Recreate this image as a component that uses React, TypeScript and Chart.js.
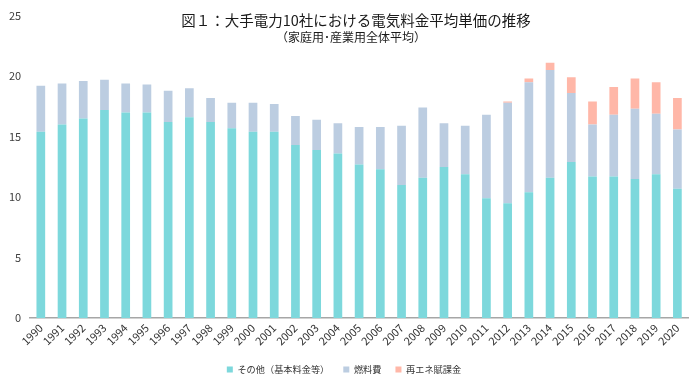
import React, { useEffect, useRef } from "react";
import { Chart, registerables } from "chart.js";

Chart.register(...registerables);

const TITLE = "図１：大手電力10社における電気料金平均単価の推移";
const SUBTITLE = "（家庭用･産業用全体平均）";

const years = [
  "1990", "1991", "1992", "1993", "1994", "1995", "1996", "1997", "1998", "1999",
  "2000", "2001", "2002", "2003", "2004", "2005", "2006", "2007", "2008", "2009",
  "2010", "2011", "2012", "2013", "2014", "2015", "2016", "2017", "2018", "2019", "2020",
];

const otherCost = [
  15.4, 16.0, 16.5, 17.2, 17.0, 17.0, 16.2, 16.6, 16.2, 15.7,
  15.4, 15.4, 14.3, 13.9, 13.6, 12.7, 12.3, 11.0, 11.6, 12.5,
  11.9, 9.9, 9.5, 10.4, 11.6, 12.9, 11.7, 11.7, 11.5, 11.9, 10.7,
];

const fuelCost = [
  3.8, 3.4, 3.1, 2.5, 2.4, 2.3, 2.6, 2.4, 2.0, 2.1,
  2.4, 2.3, 2.4, 2.5, 2.5, 3.1, 3.5, 4.9, 5.8, 3.6,
  4.0, 6.9, 8.3, 9.1, 8.9, 5.7, 4.3, 5.1, 5.8, 5.0, 4.9,
];

const renewLevy = [
  0, 0, 0, 0, 0, 0, 0, 0, 0, 0,
  0, 0, 0, 0, 0, 0, 0, 0, 0, 0,
  0, 0, 0.1, 0.3, 0.6, 1.3, 1.9, 2.3, 2.5, 2.6, 2.6,
];

const seriesNames = ["その他（基本料金等）", "燃料費", "再エネ賦課金"];
const yTicks = [0, 5, 10, 15, 20, 25];

const FONT = '"Noto Sans CJK JP", "Noto Sans", sans-serif';

const titlePlugin = {
  id: "titleText",
  afterDraw(chart: any) {
    const ctx = chart.ctx;
    ctx.save();
    ctx.fillStyle = "#1a1a1a";
    ctx.textAlign = "center";
    ctx.textBaseline = "middle";
    ctx.font = `14.5px ${FONT}`;
    ctx.fillText(TITLE, 356, 20);
    ctx.font = `12px ${FONT}`;
    ctx.fillText(SUBTITLE, 351, 37);
    ctx.restore();
  },
};

export default function App() {
  const ref = useRef<HTMLCanvasElement | null>(null);

  useEffect(() => {
    document.body.style.margin = "0";
    const canvas = ref.current;
    if (!canvas) return;
    const chart = new Chart(canvas, {
      type: "bar",
      data: {
        labels: years,
        datasets: [
          { label: seriesNames[0], data: otherCost, backgroundColor: "#7dd8dc" },
          { label: seriesNames[1], data: fuelCost, backgroundColor: "#bccde1" },
          { label: seriesNames[2], data: renewLevy, backgroundColor: "#ffb7a8" },
        ],
      },
      options: {
        responsive: false,
        animation: false,
        devicePixelRatio: 1,
        layout: { padding: { top: 10, right: 12, left: 0, bottom: 2 } },
        datasets: { bar: { categoryPercentage: 1, barPercentage: 0.41 } },
        plugins: {
          legend: {
            position: "bottom",
            labels: {
              boxWidth: 6,
              boxHeight: 6,
              padding: 14,
              color: "#333",
              font: { family: FONT, size: 9.2 },
            },
          },
          tooltip: { enabled: false },
          title: { display: false },
        },
        scales: {
          x: {
            stacked: true,
            grid: { display: false, drawTicks: false },
            border: { display: true, color: "#a6a6a6", width: 1.5 },
            ticks: {
              minRotation: 45,
              maxRotation: 45,
              autoSkip: false,
              padding: 3,
              color: "#333",
              font: { family: FONT, size: 11 },
            },
          },
          y: {
            stacked: true,
            min: 0,
            max: 25,
            grid: { display: false, drawTicks: false },
            border: { display: false },
            afterBuildTicks: (axis: any) => {
              axis.ticks = yTicks.map((v) => ({ value: v }));
            },
            ticks: {
              padding: 9,
              color: "#404040",
              font: { family: FONT, size: 11 },
            },
          },
        },
      },
      plugins: [titlePlugin],
    });
    return () => chart.destroy();
  }, []);

  return (
    <div style={{ width: 700, height: 386, background: "#fff" }}>
      <canvas ref={ref} width={700} height={386} style={{ display: "block" }} />
    </div>
  );
}
